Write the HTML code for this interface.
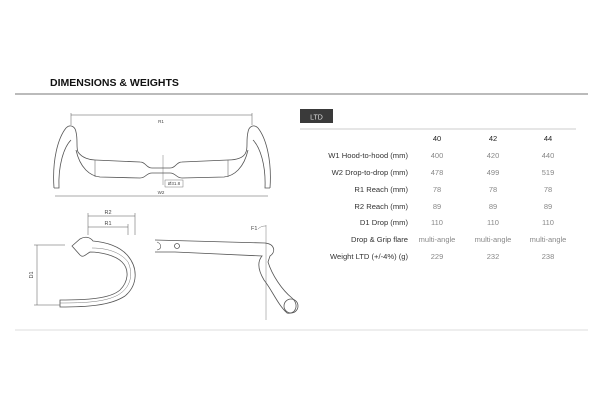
<!DOCTYPE html>
<html><head><meta charset="utf-8"><style>
body{margin:0;background:#fff;width:600px;height:407px;overflow:hidden;font-family:"Liberation Sans",sans-serif}
svg{position:absolute;left:0;top:0}
</style></head><body>
<svg width="600" height="407" viewBox="0 0 600 407" font-family="Liberation Sans, sans-serif">
<text x="50" y="86" font-size="10.5" fill="#111" font-weight="bold" letter-spacing="0">DIMENSIONS &amp; WEIGHTS</text>
<line x1="15" y1="94" x2="588" y2="94" stroke="#777" stroke-width="1"/>
<line x1="15" y1="330" x2="588" y2="330" stroke="#ddd" stroke-width="1"/>
<rect x="300" y="109" width="33" height="14" fill="#3a3a3a"/>
<text x="316.5" y="119.5" font-size="7" fill="#ddd" text-anchor="middle">LTD</text>
<line x1="300" y1="129" x2="576" y2="129" stroke="#ccc"/>
<g font-size="7.5" fill="#222" text-anchor="middle">
<text x="437" y="141">40</text><text x="493" y="141">42</text><text x="548" y="141">44</text>
</g>
<g font-size="7.6" fill="#333" text-anchor="end">
<text x="408" y="158">W1 Hood-to-hood (mm)</text>
<text x="408" y="175">W2 Drop-to-drop (mm)</text>
<text x="408" y="192">R1 Reach (mm)</text>
<text x="408" y="209">R2 Reach (mm)</text>
<text x="408" y="225">D1 Drop (mm)</text>
<text x="408" y="242">Drop &amp; Grip flare</text>
<text x="408" y="259">Weight LTD (+/-4%) (g)</text>
</g>
<g font-size="7.5" fill="#888" text-anchor="middle">
<text x="437" y="158">400</text><text x="493" y="158">420</text><text x="548" y="158">440</text>
<text x="437" y="175">478</text><text x="493" y="175">499</text><text x="548" y="175">519</text>
<text x="437" y="192">78</text><text x="493" y="192">78</text><text x="548" y="192">78</text>
<text x="437" y="209">89</text><text x="493" y="209">89</text><text x="548" y="209">89</text>
<text x="437" y="225">110</text><text x="493" y="225">110</text><text x="548" y="225">110</text>
<text x="437" y="242">multi-angle</text><text x="493" y="242">multi-angle</text><text x="548" y="242">multi-angle</text>
<text x="437" y="259">229</text><text x="493" y="259">232</text><text x="548" y="259">238</text>
</g>
<g fill="none" stroke="#555" stroke-width="0.8">
<line x1="71" y1="115" x2="252" y2="115" stroke-width="0.5"/>
<line x1="71" y1="113" x2="71" y2="125" stroke-width="0.5"/>
<line x1="252" y1="113" x2="252" y2="125" stroke-width="0.5"/>
<line x1="55" y1="196" x2="268" y2="196" stroke-width="0.5"/>
<path d="M54 188 C52 160 58 138 66 128 C70 124 75 126 76 132 C78 140 76 148 78 152 C82 158 90 160 95 160 L140 162 C146 162 146 168 152 168 L170 168 C176 168 176 162 182 162 L228 160 C236 160 244 158 246 152 C248 148 246 140 248 132 C249 126 254 124 258 128 C266 138 272 160 270 188"/>
<path d="M54 188 L59 188 C58 165 64 147 71 140"/>
<path d="M270 188 L265 188 C266 165 260 147 253 140"/>
<path d="M76 150 C80 168 90 176 100 177 L140 178 C146 178 146 173 152 173 L170 173 C176 173 176 178 182 178 L224 177 C234 176 244 168 248 150"/>
<line x1="95" y1="160" x2="95" y2="177" stroke-width="0.5"/>
<line x1="228" y1="160" x2="228" y2="177" stroke-width="0.5"/>
<line x1="163" y1="155" x2="163" y2="185" stroke-width="0.4"/>
<rect x="165" y="180" width="18" height="7" stroke-width="0.4"/>
<line x1="88" y1="213" x2="88" y2="235" stroke-width="0.5"/>
<line x1="88" y1="216" x2="135" y2="216" stroke-width="0.5"/>
<line x1="135" y1="213" x2="135" y2="235" stroke-width="0.5"/>
<line x1="88" y1="227" x2="128" y2="227" stroke-width="0.5"/>
<line x1="128" y1="224" x2="128" y2="235" stroke-width="0.5"/>
<line x1="37" y1="245" x2="37" y2="305" stroke-width="0.5"/>
<line x1="34" y1="245" x2="65" y2="245" stroke-width="0.5"/>
<line x1="34" y1="305" x2="60" y2="305" stroke-width="0.5"/>
<path d="M72 246 L80 239 C85 236 90 237 93 241 C105 242 120 246 128 256 C138 268 138 285 125 296 C110 306 85 307 60 307 L60 300 C85 300 110 299 120 290 C128 282 130 270 122 262 C115 255 100 252 90 252 C85 255 83 258 80 255 Z"/>
<path d="M92 248 C110 248 122 254 128 262 C134 275 130 288 118 295 C105 302 85 303 60 303" stroke-width="0.4"/>
<path d="M155 240 L265 243 C275 244 276 252 270 256 L268 262 C272 275 282 290 292 298 C300 305 295 315 287 313 C278 305 272 290 264 280 C258 270 257 262 262 256 L175 252 L155 252"/>
<circle cx="291" cy="306" r="7"/>
<circle cx="177" cy="246" r="2.5"/>
<path d="M157 242 C162 244 162 249 157 250" stroke-width="0.6"/>
<line x1="266" y1="225" x2="266" y2="320" stroke-width="0.4"/>
<path d="M258 229 C261 226 264 226 266 226" stroke-width="0.4"/>
</g>
<g font-size="4.5" fill="#444" text-anchor="middle">
<text x="161" y="123">R1</text><text x="161" y="194">W2</text><text x="174" y="185">Ø31.8</text>
</g>
<g font-size="5.5" fill="#444">
<text x="108" y="214" text-anchor="middle">R2</text>
<text x="108" y="225" text-anchor="middle">R1</text>
<text x="251" y="230">F1</text>
<text x="33" y="275" transform="rotate(-90 33 275)" text-anchor="middle">D1</text>
</g>
</svg>
</body></html>
